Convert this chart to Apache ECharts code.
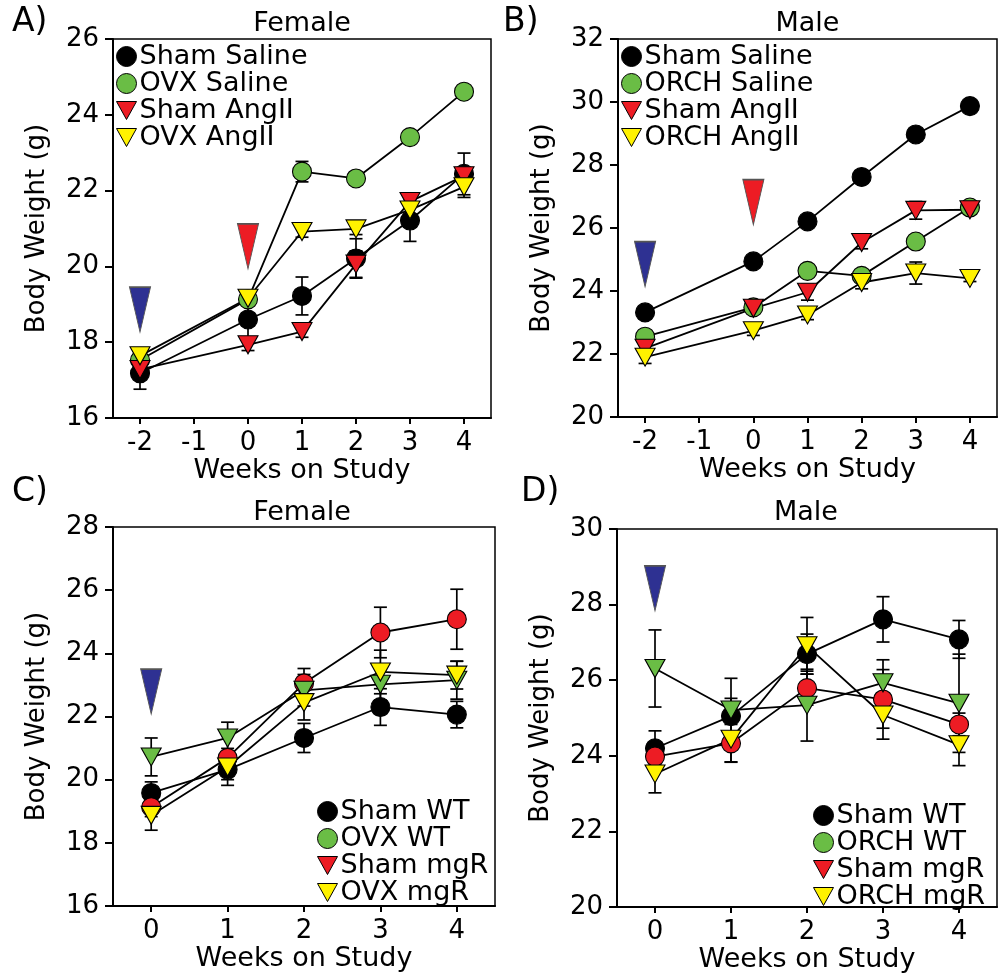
<!DOCTYPE html>
<html>
<head>
<meta charset="utf-8">
<script src="https://cdn.jsdelivr.net/npm/echarts@6/dist/echarts.min.js"></script>
<style>html,body{margin:0;padding:0;background:#fff}#c{width:999px;height:978px}</style>
</head>
<body>
<div id="c"></div>
<script>
// ---------- data ----------
const weeksAB = ['-2', '-1', '0', '1', '2', '3', '4'];
const weeksCD = ['0', '1', '2', '3', '4'];

// Panel A (Female, saline / AngII)
const A_shamSaline    = [17.18, null, 18.60, 19.22, 20.21, 21.21, 22.44];
const A_shamSalineSE  = [0.42, null, 0.50, 0.50, 0.52, 0.55, 0.55];
const A_ovxSaline     = [17.53, null, 19.13, 22.50, 22.32, 23.41, 24.61];
const A_ovxSalineSE   = [0.15, null, 0.15, 0.27, 0.12, 0.12, 0.15];
const A_shamAngII     = [17.28, null, 17.93, 18.28, 20.06, 21.71, 22.39];
const A_shamAngIISE   = [0.20, null, 0.15, 0.15, 0.35, 0.15, 0.15];
const A_ovxAngII      = [17.64, null, 19.16, 20.92, 20.99, 21.49, 22.10];
const A_ovxAngIISE    = [0.15, null, 0.15, 0.15, 0.15, 0.15, 0.28];

// Panel B (Male, saline / AngII)
const B_shamSaline    = [23.32, null, 24.94, 26.21, 27.62, 28.97, 29.87];
const B_shamSalineSE  = [0.10, null, 0.10, 0.10, 0.10, 0.10, 0.10];
const B_orchSaline    = [22.55, null, 23.48, 24.64, 24.48, 25.57, 26.65];
const B_orchSalineSE  = [0.15, null, 0.15, 0.15, 0.15, 0.15, 0.15];
const B_shamAngII     = [22.18, null, 23.45, 23.96, 25.54, 26.56, 26.58];
const B_shamAngIISE   = [0.15, null, 0.15, 0.25, 0.20, 0.28, 0.12];
const B_orchAngII     = [21.90, null, 22.74, 23.24, 24.27, 24.57, 24.40];
const B_orchAngIISE   = [0.20, null, 0.15, 0.15, 0.20, 0.35, 0.10];

// Panel C (Female, WT / mgR)
const C_shamWT   = [19.58, 20.32, 21.32, 22.30, 22.06];
const C_shamWTSE = [0.35, 0.50, 0.46, 0.58, 0.42];
const C_shamMgR   = [19.13, 20.69, 23.05, 24.66, 25.08];
const C_shamMgRSE = [0.30, 0.30, 0.47, 0.80, 0.95];
const C_ovxWT   = [20.72, 21.32, 22.83, 23.02, 23.15];
const C_ovxWTSE = [0.60, 0.50, 0.50, 0.50, 0.60];
const C_ovxMgR   = [18.87, 20.40, 22.44, 23.41, 23.31];
const C_ovxMgRSE = [0.47, 0.40, 0.55, 0.69, 0.44];

// Panel D (Male, WT / mgR)
const D_shamWT   = [24.20, 25.05, 26.69, 27.61, 27.08];
const D_shamWTSE = [0.46, 0.47, 0.53, 0.60, 0.50];
const D_shamMgR   = [23.98, 24.33, 25.79, 25.49, 24.83];
const D_shamMgRSE = [0.20, 0.50, 0.45, 1.05, 0.30];
const D_orchWT   = [26.31, 25.21, 25.34, 25.93, 25.39];
const D_orchWTSE = [1.02, 0.84, 0.95, 0.35, 1.30];
const D_orchMgR   = [23.52, 24.44, 26.91, 25.08, 24.29];
const D_orchMgRSE = [0.50, 0.60, 0.75, 0.35, 0.55];

// treatment arrows: [category index, value at arrow centre]
const A_arrows = [[0, 18.86, 'blue'], [2, 20.53, 'red']];
const B_arrows = [[0, 24.85, 'blue'], [2, 26.82, 'red']];
const C_arrows = [[0, 22.79, 'blue']];
const D_arrows = [[0, 28.43, 'blue']];

// ---------- styling ----------
const FONT = 'DejaVu Sans';
const COL = { black: '#000000', green: '#6ABD45', red: '#ED1C24', yellow: '#FFF200', blue: '#2E3192' };
const TRI = 'path://M0,0 L20,0 L10,18 Z';
const ARROW = 'path://M0,0 L20,0 L10,44 Z';

const panels = [
  { grid: { left: 113, top: 39, width: 378, height: 379 }, cats: weeksAB, ymin: 16, ymax: 26,
    title: 'Female', tx: 302, ty: 23.5, letter: 'A)', lx: 12, ly: 22,
    legendPos: { left: 116, top: 43 },
    series: [
      { name: 'Sham Saline', v: A_shamSaline, e: A_shamSalineSE, col: COL.black, sym: 'circle', lsym: 'circle' },
      { name: 'OVX Saline', v: A_ovxSaline, e: A_ovxSalineSE, col: COL.green, sym: 'circle', lsym: 'circle' },
      { name: 'Sham AngII', v: A_shamAngII, e: A_shamAngIISE, col: COL.red, sym: TRI, lsym: TRI },
      { name: 'OVX AngII', v: A_ovxAngII, e: A_ovxAngIISE, col: COL.yellow, sym: TRI, lsym: TRI }
    ], legendOrder: [0, 1, 2, 3], arrows: A_arrows },
  { grid: { left: 618, top: 39, width: 379, height: 378 }, cats: weeksAB, ymin: 20, ymax: 32,
    title: 'Male', tx: 807.5, ty: 23.5, letter: 'B)', lx: 503, ly: 22,
    legendPos: { left: 621, top: 43 },
    series: [
      { name: 'Sham Saline', v: B_shamSaline, e: B_shamSalineSE, col: COL.black, sym: 'circle', lsym: 'circle' },
      { name: 'ORCH Saline', v: B_orchSaline, e: B_orchSalineSE, col: COL.green, sym: 'circle', lsym: 'circle' },
      { name: 'Sham AngII', v: B_shamAngII, e: B_shamAngIISE, col: COL.red, sym: TRI, lsym: TRI },
      { name: 'ORCH AngII', v: B_orchAngII, e: B_orchAngIISE, col: COL.yellow, sym: TRI, lsym: TRI }
    ], legendOrder: [0, 1, 2, 3], arrows: B_arrows },
  { grid: { left: 113, top: 527, width: 382, height: 379 }, cats: weeksCD, ymin: 16, ymax: 28,
    title: 'Female', tx: 302, ty: 513, letter: 'C)', lx: 12, ly: 492,
    legendPos: { left: 317, top: 798 },
    series: [
      { name: 'Sham WT', v: C_shamWT, e: C_shamWTSE, col: COL.black, sym: 'circle', lsym: 'circle' },
      { name: 'Sham mgR', v: C_shamMgR, e: C_shamMgRSE, col: COL.red, sym: 'circle', lsym: TRI },
      { name: 'OVX WT', v: C_ovxWT, e: C_ovxWTSE, col: COL.green, sym: TRI, lsym: 'circle' },
      { name: 'OVX mgR', v: C_ovxMgR, e: C_ovxMgRSE, col: COL.yellow, sym: TRI, lsym: TRI }
    ], legendOrder: [0, 2, 1, 3], arrows: C_arrows },
  { grid: { left: 617, top: 529, width: 380, height: 378 }, cats: weeksCD, ymin: 20, ymax: 30,
    title: 'Male', tx: 806, ty: 513, letter: 'D)', lx: 521, ly: 492,
    legendPos: { left: 813, top: 802 },
    series: [
      { name: 'Sham WT', v: D_shamWT, e: D_shamWTSE, col: COL.black, sym: 'circle', lsym: 'circle' },
      { name: 'Sham mgR', v: D_shamMgR, e: D_shamMgRSE, col: COL.red, sym: 'circle', lsym: TRI },
      { name: 'ORCH WT', v: D_orchWT, e: D_orchWTSE, col: COL.green, sym: TRI, lsym: 'circle' },
      { name: 'ORCH mgR', v: D_orchMgR, e: D_orchMgRSE, col: COL.yellow, sym: TRI, lsym: TRI }
    ], legendOrder: [0, 2, 1, 3], arrows: D_arrows }
];

// ---------- build option ----------
const grids = [], xAxes = [], yAxes = [], series = [], legends = [], graphics = [];

function errorRender(params, api) {
  const x = api.value(0), y = api.value(1), e = api.value(2);
  const t = api.coord([x, y + e]);
  const b = api.coord([x, y - e]);
  const hw = 6.5;
  const st = { stroke: '#000', lineWidth: 1.7 };
  return { type: 'group', children: [
    { type: 'line', shape: { x1: t[0], y1: t[1], x2: b[0], y2: b[1] }, style: st },
    { type: 'line', shape: { x1: t[0] - hw, y1: t[1], x2: t[0] + hw, y2: t[1] }, style: st },
    { type: 'line', shape: { x1: b[0] - hw, y1: b[1], x2: b[0] + hw, y2: b[1] }, style: st }
  ]};
}

panels.forEach((p, gi) => {
  grids.push(Object.assign({ show: true, borderColor: '#000', borderWidth: 1.5, backgroundColor: 'transparent' }, p.grid));
  xAxes.push({
    type: 'category', gridIndex: gi, data: p.cats, boundaryGap: true,
    axisLine: { show: true, onZero: false, lineStyle: { color: '#000', width: 2 } },
    axisTick: { show: true, alignWithLabel: true, interval: 0, length: 6, lineStyle: { color: '#000', width: 2 } },
    axisLabel: { interval: 0, color: '#000', fontSize: 26, fontFamily: FONT, margin: 12 },
    splitLine: { show: false },
    name: 'Weeks on Study', nameLocation: 'middle', nameGap: 39,
    nameTextStyle: { color: '#000', fontSize: 27, fontFamily: FONT }
  });
  yAxes.push({
    type: 'value', gridIndex: gi, min: p.ymin, max: p.ymax, interval: 2,
    axisLine: { show: true, lineStyle: { color: '#000', width: 2 } },
    axisTick: { show: true, length: 8, lineStyle: { color: '#000', width: 2 } },
    axisLabel: { color: '#000', fontSize: 26, fontFamily: FONT, margin: 14 },
    splitLine: { show: false },
    name: 'Body Weight (g)', nameLocation: 'middle', nameGap: 63,
    nameTextStyle: { color: '#000', fontSize: 26, fontFamily: FONT }
  });

  p.series.forEach(s => {
    series.push({
      type: 'line', name: s.name, xAxisIndex: gi, yAxisIndex: gi, data: s.v,
      connectNulls: true, showSymbol: false, symbol: 'none', silent: true, z: 2,
      lineStyle: { color: '#000', width: 1.8 }, itemStyle: { color: s.col }
    });
  });
  p.series.forEach(s => {
    series.push({
      type: 'custom', name: s.name, xAxisIndex: gi, yAxisIndex: gi, z: 3, silent: true,
      renderItem: errorRender,
      data: s.v.map((v, i) => v == null ? null : [i, v, s.e[i]]).filter(Boolean)
    });
  });
  p.series.forEach(s => {
    series.push({
      type: 'scatter', name: s.name, xAxisIndex: gi, yAxisIndex: gi, z: 4, silent: true,
      symbol: s.sym, symbolSize: s.sym === 'circle' ? 19 : [20, 18],
      itemStyle: { color: s.col, borderColor: '#000', borderWidth: 1.1, opacity: 1 },
      data: s.v.map((v, i) => v == null ? null : [i, v]).filter(Boolean)
    });
  });
  p.arrows.forEach(a => {
    series.push({
      type: 'scatter', xAxisIndex: gi, yAxisIndex: gi, z: 5, silent: true,
      symbol: ARROW, symbolSize: [21, 45],
      itemStyle: { color: COL[a[2]], borderColor: '#555555', borderWidth: 1.2, opacity: 1 },
      data: [[a[0], a[1]]]
    });
  });

  legends.push({
    orient: 'vertical', left: p.legendPos.left, top: p.legendPos.top, padding: 0,
    itemWidth: 20, itemHeight: 20, itemGap: 0, selectedMode: false,
    textStyle: { color: '#000', fontSize: 27, fontFamily: FONT, lineHeight: 24.4, padding: [0, 0, 0, -2] },
    data: p.legendOrder.map(k => {
      const s = p.series[k];
      return { name: s.name, icon: s.lsym, itemStyle: { color: s.col, borderColor: '#000', borderWidth: 1 } };
    })
  });

  graphics.push({ type: 'text', x: p.tx, y: p.ty, silent: true,
    style: { text: p.title, fill: '#000', fontSize: 27, fontFamily: FONT, align: 'center', verticalAlign: 'middle' } });
  graphics.push({ type: 'text', x: p.lx, y: p.ly, silent: true,
    style: { text: p.letter, fill: '#000', fontSize: 33, fontFamily: FONT, align: 'left', verticalAlign: 'middle' } });
});

const chart = echarts.init(document.getElementById('c'), null, { renderer: 'canvas' });
chart.setOption({
  animation: false,
  backgroundColor: '#ffffff',
  grid: grids, xAxis: xAxes, yAxis: yAxes,
  legend: legends, series: series, graphic: graphics
});
</script>
</body>
</html>
